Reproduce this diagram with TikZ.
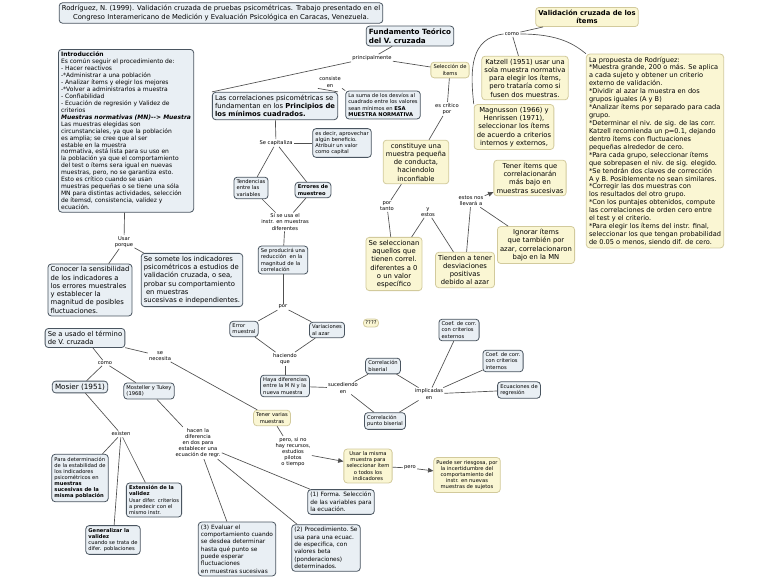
\documentclass[tikz,border=0pt]{standalone}
\usepackage{fontspec}
\setmainfont{DejaVu Sans}
\usetikzlibrary{arrows.meta}
\definecolor{bfill}{HTML}{E9EFF4}
\definecolor{bdraw}{HTML}{4A5560}
\definecolor{yfill}{HTML}{FAF6D3}
\definecolor{ydraw}{HTML}{D2CA9C}
\definecolor{lnk}{HTML}{505050}
\newcommand\fsxa{\fontsize{3.9}{4.6}\selectfont}
\newcommand\fsxb{\fontsize{4.4}{5.5}\selectfont}
\newcommand\fsxc{\fontsize{5.1}{6.2}\selectfont}
\newcommand\fsxd{\fontsize{5.4}{6.5}\selectfont}
\tikzset{
 bx/.style={draw=bdraw,fill=bfill,rounded corners=2.5pt,line width=0.6pt,inner sep=2pt,align=left,font=\fsxa},
 yb/.style={draw=ydraw,fill=yfill,rounded corners=2.5pt,line width=0.6pt,inner sep=2pt,align=center,font=\fsxc},
 lbl/.style={inner sep=0.8pt,align=center,font=\fsxa},
 ln/.style={draw=lnk,line width=0.5pt},
 ar/.style={ln,-{Triangle[length=4pt,width=3.5pt]}}
}
\begin{document}
\begin{tikzpicture}[x=0.75pt,y=-0.75pt]
\useasboundingbox (0,0) rectangle (768,578);
% top
\node[bx,align=center,font=\fsxc] (ref) at (221,13) {Rodríguez, N. (1999). Validación cruzada de pruebas psicométricas. Trabajo presentado en el\\Congreso Interamericano de Medición y Evaluación Psicológica en Caracas, Venezuela.};
\node[bx,align=left,font=\fsxd\bfseries] (fund) at (410,36) {Fundamento Teórico\\del V. cruzada};
\node[bx,anchor=north west,font=\fontsize{4.5}{5.2}\selectfont] (intro) at (58,49) {\textbf{Introducción}\\Es común seguir el procedimiento de:\\- Hacer reactivos\\-*Administrar a una población\\- Analizar ítems y elegir los mejores\\-*Volver a administrarlos a muestra\\- Confiabilidad\\- Ecuación de regresión y Validez de\\criterios\\\textbf{\textit{Muestras normativas (MN){-}{-}> Muestra}}\\Las muestras elegidas son\\circunstanciales, ya que la población\\es amplia; se cree que al ser\\estable en la muestra\\normativa, está lista para su uso en\\la población ya que el comportamiento\\del test o ítems sera igual en nuevas\\muestras, pero, no se garantiza esto.\\Esto es crítico cuando se usan\\muestras pequeñas o se tiene una sóla\\MN para distintas actividades, selección\\de ítemsd, consistencia, validez y\\ecuación.};
\node[bx,font=\fsxc] (corr) at (275,106) {Las correlaciones psicométricas se\\fundamentan en los \textbf{Principios de}\\\textbf{los mínimos cuadrados.}};
\node[bx,font=\fsxa] (suma) at (383,105) {La suma de los desvíos al\\cuadrado entre los valores\\sean mínimos en \textbf{ESA}\\\textbf{MUESTRA NORMATIVA}};
\node[bx,font=\fsxa] (capital) at (342,143) {es decir, aprovechar\\algún beneficio.\\Atribuir un valor\\como capital};
\node[bx,font=\fsxa] (tend) at (251,188) {Tendencias\\entre las\\variables};
\node[bx,font=\fsxa\bfseries] (errores) at (313,190) {Errores de\\muestreo};
\node[bx,font=\fsxa] (reduc) at (283,260) {Se producirá una\\reducción\ \ en la\\magnitud de la\\correlación};
\node[bx,font=\fsxa] (errm) at (244,329) {Error\\muestral};
\node[bx,font=\fsxa] (vari) at (327,330) {Variaciones\\al azar};
\node[yb,font=\fsxa,inner sep=1.5pt] (qq) at (371,323) {????};
\node[bx,font=\fsxa] (haya) at (285,386) {Haya diferencias\\entre la M N y la\\nueva muestra};
\node[bx,font=\fsxa] (bis) at (383,366) {Correlación\\biserial};
\node[bx,font=\fsxa] (pbis) at (385,421) {Correlación\\punto biserial};
\node[bx,font=\fsxa] (cext) at (459,330) {Coef. de corr.\\con criterios\\externos};
\node[bx,font=\fsxa] (cint) at (503,361) {Coef. de corr.\\con criterios\\internos};
\node[bx,font=\fsxa] (ecreg) at (519,390) {Ecuaciones de\\regresión};
% left lower
\node[bx,font=\fsxc] (conocer) at (90,290) {Conocer la sensibilidad\\de los indicadores a\\los errores muestrales\\y establecer la\\magnitud de posibles\\fluctuaciones.};
\node[bx,font=\fsxc] (somete) at (192,280) {Se somete los indicadores\\psicométricos a estudios de\\validación cruzada, o sea,\\probar su comportamiento\\\ en muestras\\sucesivas e independientes.};
\node[bx,font=\fsxc] (usado) at (85,338) {Se a usado el término\\de V. cruzada};
\node[bx,font=\fsxd] (mosier) at (80,387) {Mosier (1951)};
\node[bx,font=\fsxa] (most) at (149,391) {Mosteller y Tukey\\(1968)};
\node[bx,font=\fsxa] (paradet) at (80,478) {Para determinación\\de la estabilidad de\\los indicadores\\psicométricos en\\\textbf{muestras}\\\textbf{sucesivas de la}\\\textbf{misma población}};
\node[bx,font=\fsxa] (ext) at (154,500) {\textbf{Extensión de la}\\\textbf{validez}\\Usar difer. criterios\\a predecir con el\\mismo instr.};
\node[bx,font=\fsxa] (gen) at (113,540) {\textbf{Generalizar la}\\\textbf{validez}\\cuando se trata de\\difer. poblaciones};
\node[bx,font=\fsxb] (ev3) at (237,549) {(3) Evaluar el\\comportamiento cuando\\se desdea determinar\\hasta qué punto se\\puede esperar\\fluctuaciones\\en muestras sucesivas};
\node[bx,font=\fsxb] (pr2) at (326,548) {(2) Procedimiento.\ Se\\usa para una ecuac.\\de especifica, con\\valores beta\\(ponderaciones)\\determinados.};
\node[bx,font=\fsxb] (fo1) at (341,502) {(1) Forma. Selección\\de las variables para\\la ecuación.};
\node[yb,font=\fsxa] (varias) at (272,418) {Tener varias\\muestras};
\node[yb,font=\fsxa] (misma) at (368,466) {Usar la misma\\muestra para\\seleccionar ítem\\o todos los\\indicadores};
\node[yb,font=\fsxa] (riesg) at (467,475) {Puede ser riesgosa, por\\la incertidumbre del\\comportamiento del\\instr. en nuevas\\muestras de sujetos};
% right
\node[yb,font=\fsxc\bfseries] (vci) at (587,17) {Validación cruzada de los\\ítems};
\node[yb] (katz) at (525,78) {Katzell (1951) usar una\\sola muestra normativa\\para elegir los ítems,\\pero trataría como si\\fusen dos muestras.};
\node[yb] (magn) at (514,127) {Magnusson (1966) y\\Henrissen (1971),\\seleccionar los ítems\\de acuerdo a criterios\\internos y externos,};
\node[yb,align=left,font=\fontsize{4.95}{5.95}\selectfont] (prop) at (655,151) {La propuesta de Rodríguez:\\*Muestra grande, 200 o más. Se aplica\\a cada sujeto y obtener un criterio\\externo de validación.\\*Dividir al azar la muestra en dos\\grupos iguales (A y B)\\*Analizar ítems por separado para cada\\grupo.\\*Determinar el niv. de sig. de las corr.\\Katzell recomienda un p=0.1, dejando\\dentro ítems con fluctuaciones\\pequeñas alrededor de cero.\\*Para cada grupo, seleccionar ítems\\que sobrepasen el niv. de sig. elegido.\\*Se tendrán dos claves de corrección\\A y B. Posiblemente no sean similares.\\*Corregir las dos muestras con\\los resultados del otro grupo.\\*Con los puntajes obtenidos, compute\\las correlaciones de orden cero entre\\el test y el criterio.\\*Para elegir los ítems del instr. final,\\seleccionar los que tengan probabilidad\\de 0.05 o menos, siendo dif. de cero.};
\node[yb,font=\fsxa] (sel) at (450,70) {Selección de\\ítems};
\node[yb] (const) at (416,162) {constituye una\\muestra pequeña\\de conducta,\\haciendolo\\inconfiable};
\node[yb] (teneri) at (530,178) {Tener ítems que\\correlacionarán\\más bajo en\\muestras sucesivas};
\node[yb] (selecc) at (394,264) {Se seleccionan\\aquellos que\\tienen correl.\\diferentes a 0\\o un valor\\específico};
\node[yb] (tiend) at (465,270) {Tienden a tener\\desviaciones\\positivas\\debido al azar};
\node[yb] (ign) at (536,245) {Ignorar ítems\\que también por\\azar, correlacionaron\\bajo en la MN};
% labels
\node[lbl] (lprin) at (372,58) {principalmente};
\node[lbl] (lcons) at (330,82) {consiste\\en};
\node[lbl] (lcap) at (276,143) {Se capitaliza};
\node[lbl] (lsi) at (285,222) {Si se usa el\\instr. en muestras\\diferentes};
\node[lbl] (lpor) at (283,307) {por};
\node[lbl] (lhac) at (285,359) {haciendo\\que};
\node[lbl] (lsuc) at (343,388) {sucediendo\\en};
\node[lbl] (limp) at (429,394) {implicadas\\en};
\node[lbl] (lusar) at (124,242) {Usar\\porque};
\node[lbl] (lcomo) at (105,363) {como};
\node[lbl] (lnec) at (160,356) {se\\necesita};
\node[lbl] (lexi) at (121,434) {existen};
\node[lbl] (lhacen) at (198,443) {hacen la\\diferencia\\en dos para\\establecer una\\ecuación de regr.};
\node[lbl] (lpero) at (293,452) {pero, si no\\hay recursos,\\estudios\\pilotos\\o tiempo};
\node[lbl] (lpero2) at (410,468) {pero};
\node[lbl] (lcrit) at (447,109) {es crítico\\por};
\node[lbl] (ltanto) at (387,206) {por\\tanto};
\node[lbl] (lyest) at (428,212) {y\\estos};
\node[lbl] (llev) at (471,201) {estos nos\\llevará a};
\node[lbl] (lcomo2) at (512,34) {como};
% connectors
\draw[ln] (fund) -- (lprin);
\draw[ln] (lprin.south west) -- (corr.north west);
\draw[ln] (lprin) -- (sel);
\draw[ln] (corr.north east) -- (lcons.south west);
\draw[ln] (lcons.south east) -- (suma.north west);
\draw[ln] (corr) -- (lcap);
\draw[ln] (lcap) -- (capital);
\draw[ln] (lcap) -- (tend);
\draw[ln] (lcap) -- (errores);
\draw[ln] (tend) -- (lsi);
\draw[ln] (errores) -- (lsi);
\draw[ln] (lsi) -- (reduc);
\draw[ln] (reduc) -- (lpor);
\draw[ln] (lpor) -- (errm);
\draw[ln] (lpor) -- (vari);
\draw[ln] (errm) -- (lhac);
\draw[ln] (vari) -- (lhac);
\draw[ln] (lhac) -- (haya);
\draw[ln] (haya) -- (lsuc);
\draw[ln] (lsuc) -- (bis);
\draw[ln] (lsuc) -- (pbis);
\draw[ln] (bis) -- (limp);
\draw[ln] (pbis) -- (limp);
\draw[ln] (limp) -- (cext);
\draw[ln] (limp) -- (cint);
\draw[ln] (limp) -- (ecreg);
\draw[ln] (intro) -- (lusar);
\draw[ln] (lusar) -- (conocer);
\draw[ln] (lusar) -- (somete);
\draw[ln] (usado) -- (lcomo);
\draw[ln] (lcomo) -- (mosier);
\draw[ln] (lcomo) -- (most);
\draw[ln] (usado) -- (lnec);
\draw[ln] (lnec) -- (varias);
\draw[ln] (mosier) -- (lexi);
\draw[ln] (lexi) -- (paradet);
\draw[ln] (lexi) -- (ext);
\draw[ln] (lexi) -- (gen);
\draw[ln] (most) -- (lhacen);
\draw[ln] (lhacen) -- (ev3);
\draw[ln] (lhacen) -- (pr2);
\draw[ln] (lhacen) -- (fo1);
\draw[ln] (varias) -- (lpero);
\draw[ar] (lpero) -- (misma);
\draw[ln] (misma) -- (lpero2);
\draw[ar] (lpero2) -- (riesg);
\draw[ln] (sel) -- (lcrit);
\draw[ln] (lcrit) -- (const);
\draw[ln] (const) -- (ltanto);
\draw[ln] (ltanto) -- (selecc);
\draw[ln] (selecc) -- (lyest);
\draw[ln] (lyest) -- (tiend);
\draw[ln] (tiend) -- (llev);
\draw[ar] (llev) -- (teneri);
\draw[ln] (llev) -- (ign);
\draw[ln] (vci) -- (lcomo2);
\draw[ln] (lcomo2) -- (katz);
\draw[ln] (lcomo2.west) .. controls (470,38) and (470,70) .. (magn.north west);
\draw[ln] (lcomo2.east) .. controls (560,34) and (575,45) .. (prop.north west);
\end{tikzpicture}
\end{document}
